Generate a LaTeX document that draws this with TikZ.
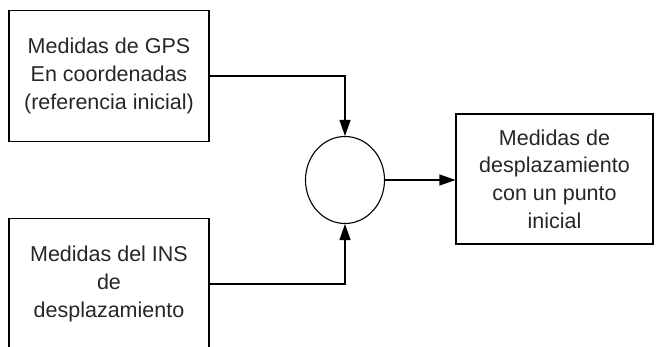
\documentclass[tikz,border=0pt]{standalone}
\usepackage{fontspec}
\setmainfont{Liberation Sans}
\usetikzlibrary{arrows.meta,shapes.geometric}
\tikzset{
  blockbox/.style={draw=black, line width=1.1pt, inner sep=0pt,
    font=\fontsize{21.5}{27.7}\selectfont, text=black!85, align=center},
  flow/.style={draw=black, line width=1.1pt,
    -{Triangle[length=16pt,width=11pt]}},
}
\begin{document}
\begin{tikzpicture}[x=1pt,y=-1pt]
  \useasboundingbox (0,0) rectangle (656,347);
  \clip (0,0) rectangle (656,347);
  % input blocks
  \node[blockbox, minimum width=200pt, minimum height=131pt] (gps) at (109,76)
    {Medidas de GPS\\En coordenadas\\(referencia inicial)};
  \node[blockbox, minimum width=200pt, minimum height=131pt] (ins) at (109,284)
    {Medidas del INS\\de\\desplazamiento};
  % combination node
  \node[draw=black, line width=1.1pt, ellipse, minimum width=79pt,
        minimum height=87pt, inner sep=0pt] (sum) at (345,180) {};
  % output block
  \node[blockbox, minimum width=197pt, minimum height=130pt] (out) at (554.5,179)
    {Medidas de\\desplazamiento\\con un punto\\inicial};
  % connectors
  \draw[flow] (gps.east) -| (sum.north);
  \draw[flow] (ins.east) -| (sum.south);
  \draw[flow] (sum.east) -- (out.west |- sum.east);
\end{tikzpicture}
\end{document}
